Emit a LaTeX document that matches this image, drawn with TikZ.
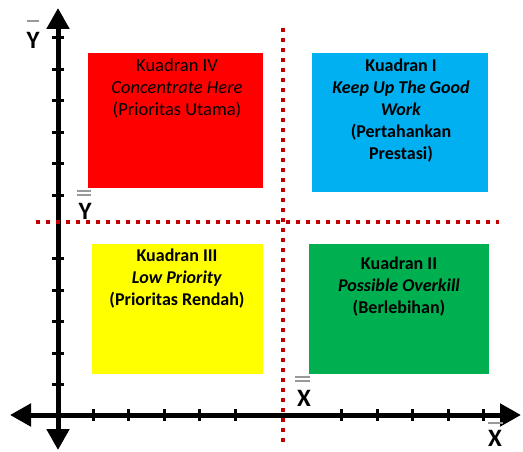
\documentclass[tikz,border=0pt]{standalone}
\usepackage{fontspec}
\setmainfont{Carlito}
\usetikzlibrary{arrows.meta}
\definecolor{qred}{HTML}{FF0000}
\definecolor{qblue}{HTML}{00B0F0}
\definecolor{qyellow}{HTML}{FFFF00}
\definecolor{qgreen}{HTML}{00B050}
\definecolor{dotred}{HTML}{C00000}
\tikzset{
  quad/.style={draw=none, inner sep=0pt, anchor=north west},
  qtext/.style={align=center, font=\fontsize{18}{22}\selectfont\bfseries, inner sep=0pt, text=black},
  qtextreg/.style={align=center, font=\fontsize{18.5}{22}\selectfont, inner sep=0pt, text=black},
  tickmark/.style={line width=3pt},
  dotline/.style={dotred, line width=4pt, dash pattern=on 4pt off 6pt},
  axlabel/.style={font=\fontsize{25}{25}\selectfont\bfseries, inner sep=0pt},
  barline/.style={gray!80, line width=1.6pt}
}
\begin{document}
\begin{tikzpicture}[x=1pt,y=-1pt]
\useasboundingbox (0,0) rectangle (523,452);
% quadrant boxes
\node (q4) [quad, fill=qred, minimum width=175pt, minimum height=135pt] at (88,53) {};
\node (q1) [quad, fill=qblue, minimum width=176pt, minimum height=139pt] at (312,53) {};
\node (q3) [quad, fill=qyellow, minimum width=171pt, minimum height=130pt] at (92,244) {};
\node (q2) [quad, fill=qgreen, minimum width=180pt, minimum height=130pt] at (309,244) {};
% quadrant texts
\node (t4) [qtextreg] at (177,88) {Kuadran IV\\\textit{Concentrate Here}\\(Prioritas Utama)};
\node (t1) [qtext] at (401,111) {Kuadran I\\\textit{Keep Up The Good}\\\textit{Work}\\(Pertahankan\\Prestasi)};
\node (t3) [qtext] at (177,279) {Kuadran III\\\textit{Low Priority}\\(Prioritas Rendah)};
\node (t2) [qtext] at (399,287) {Kuadran II\\\textit{Possible Overkill}\\(Berlebihan)};
% axes
\coordinate (ybot) at (58,450);
\coordinate (ytop) at (58,8);
\coordinate (xleft) at (10,415);
\coordinate (xright) at (521,415);
\draw[line width=5pt, {Triangle[length=21pt,width=22pt]}-{Triangle[length=21pt,width=22pt]}] (ybot) -- (ytop);
\draw[line width=5pt, {Triangle[length=21pt,width=22pt]}-{Triangle[length=21pt,width=22pt]}] (xleft) -- (xright);
% ticks on vertical axis
\foreach \k in {0,...,11}{
  \ifnum\k=6\else
    \draw[tickmark] (52,38+31.5*\k) -- (64,38+31.5*\k);
  \fi
}
% ticks on horizontal axis
\foreach \k in {0,...,11}{
  \ifnum\k=5\else\ifnum\k=6\else
    \draw[tickmark] (93+35.5*\k,409) -- (93+35.5*\k,421);
  \fi\fi
}
% dotted dividers
\coordinate (vtop) at (283,28);
\coordinate (vbot) at (283,442);
\coordinate (hleft) at (36,222);
\coordinate (hright) at (499,222);
\draw[dotline] (vtop) -- (vbot);
\draw[dotline] (hleft) -- (hright);
% axis labels
\node (ybar) [axlabel] at (33,40) {Y};
\draw[barline] (27,21) -- (39,21);
\node (ymean) [axlabel] at (85,211) {Y};
\draw[barline] (77,191) -- (91,191);
\draw[barline] (77,195) -- (91,195);
\node (xmean) [axlabel] at (304,398) {X};
\draw[barline] (295,377) -- (310,377);
\draw[barline] (295,381) -- (310,381);
\node (xbar) [axlabel] at (495,438) {X};
\draw[barline] (488,423) -- (503,423);
\end{tikzpicture}
\end{document}
